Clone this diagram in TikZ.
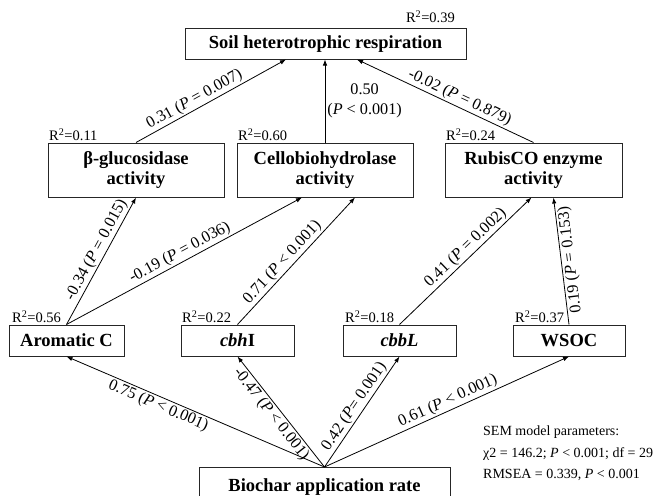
\documentclass[tikz,border=0pt]{standalone}
\usepackage{fontspec}
\setmainfont{Liberation Serif}
\usetikzlibrary{arrows.meta}

\tikzset{
  varbox/.style={draw=black!85, line width=1pt, fill=white, align=center, inner sep=2pt,
    font=\fontsize{18.5}{20}\selectfont\bfseries},
  rsq/.style={anchor=south west, inner sep=1.5pt, font=\fontsize{14.5}{16}\selectfont},
  semarrow/.style={-{Latex[length=6pt,width=4.5pt]}, line width=0.8pt},
  coef/.style={sloped, inner sep=1.5pt, font=\fontsize{16.2}{17}\selectfont},
  coefstack/.style={align=center, inner sep=2pt, font=\fontsize{16.2}{20}\selectfont}
}
\newcommand{\Pit}{\textit{P}}

\begin{document}
\begin{tikzpicture}[x=1pt, y=-1pt]
  \useasboundingbox (0,0) rectangle (655,495);
  \clip (0,0) rectangle (655,495);
  % Response
  \node[varbox, minimum width=281pt, minimum height=30pt] (soilresp) at (325.5,44) {Soil heterotrophic respiration};
  % Enzyme activities
  \node[varbox, minimum width=176pt, minimum height=54pt] (glucosidase) at (136,170) {β-glucosidase\\activity};
  \node[varbox, minimum width=176pt, minimum height=54pt] (cellobio) at (325,170) {Cellobiohydrolase\\activity};
  \node[varbox, minimum width=177pt, minimum height=54pt] (rubisco) at (533.5,170) {RubisCO enzyme\\activity};
  % Soil properties and genes
  \node[varbox, minimum width=115pt, minimum height=31pt] (aromatic) at (66.5,340.5) {Aromatic C};
  \node[varbox, minimum width=113pt, minimum height=31pt] (cbhI) at (237.5,340.5) {\textit{cbh}I};
  \node[varbox, minimum width=113pt, minimum height=31pt] (cbbL) at (399.5,340.5) {\textit{cbbL}};
  \node[varbox, minimum width=112pt, minimum height=31pt] (wsoc) at (569,340.5) {WSOC};
  % Treatment
  \node[varbox, minimum width=251pt, minimum height=40pt, anchor=north] (biochar) at (324.5,467) {Biochar application rate};

  % R2 values
  \node[rsq, anchor=south east, yshift=4pt] (r2soil) at ([xshift=-10pt]soilresp.north east) {R\textsuperscript{2}=0.39};
  \node[rsq] (r2gluc) at (glucosidase.north west) {R\textsuperscript{2}=0.11};
  \node[rsq] (r2cello) at (cellobio.north west) {R\textsuperscript{2}=0.60};
  \node[rsq] (r2rubisco) at (rubisco.north west) {R\textsuperscript{2}=0.24};
  \node[rsq] (r2arom) at ([xshift=2pt]aromatic.north west) {R\textsuperscript{2}=0.56};
  \node[rsq] (r2cbh) at (cbhI.north west) {R\textsuperscript{2}=0.22};
  \node[rsq] (r2cbb) at ([xshift=1pt]cbbL.north west) {R\textsuperscript{2}=0.18};
  \node[rsq] (r2wsoc) at ([xshift=1pt]wsoc.north west) {R\textsuperscript{2}=0.37};

  % Paths to respiration
  \draw[semarrow] (glucosidase.north) -- ([xshift=-39.5pt]soilresp.south)
    node[coef, pos=0.42, above] {0.31 (\Pit{} = 0.007)};
  \draw[semarrow] (cellobio.north) -- (cellobio.north |- soilresp.south)
    node[coefstack, midway, right] {0.50\\(\Pit{} < 0.001)};
  \draw[semarrow] (rubisco.north) -- ([xshift=31.5pt]soilresp.south)
    node[coef, pos=0.44, above] {-0.02 (\Pit{} = 0.879)};

  % Paths to enzymes
  \draw[semarrow] (aromatic.north) -- (glucosidase.south)
    node[coef, pos=0.55, above] {-0.34 (\Pit{} = 0.015)};
  \draw[semarrow] (aromatic.north) -- ([xshift=-23pt]cellobio.south)
    node[coef, pos=0.5, above] {-0.19 (\Pit{} = 0.036)};
  \draw[semarrow] (cbhI.north) -- ([xshift=30pt]cellobio.south)
    node[coef, pos=0.44, above] {0.71 (\Pit{} < 0.001)};
  \draw[semarrow] (cbbL.north) -- ([xshift=-2pt]rubisco.south)
    node[coef, pos=0.55, above] {0.41 (\Pit{} = 0.002)};
  \draw[semarrow] (wsoc.north) -- ([xshift=20pt]rubisco.south)
    node[coef, midway, below, allow upside down] {0.19 (\Pit{} = 0.153)};

  % Paths from biochar
  \foreach \dest/\coefftext/\anc/\where in {aromatic/{0.75 (\Pit{} < 0.001)}/north/0.63,
      cbhI/{-0.47 (\Pit{} < 0.001)}/north/0.53, cbbL/{0.42 (\Pit{}= 0.001)}/south/0.5,
      wsoc/{0.61 (\Pit{} < 0.001)}/south/0.52}
    \draw[semarrow] (biochar.north) -- (\dest.south)
      node[coef, pos=\where, anchor=\anc] {\coefftext};

  % Fit statistics
  \node[anchor=north west, align=left, inner sep=0pt, font=\fontsize{14}{21.5}\selectfont] (semfit) at (483,426)
    {SEM model parameters:\\χ2 = 146.2; \Pit{} < 0.001; df = 29\\RMSEA = 0.339, \Pit{} < 0.001};
\end{tikzpicture}
\end{document}
